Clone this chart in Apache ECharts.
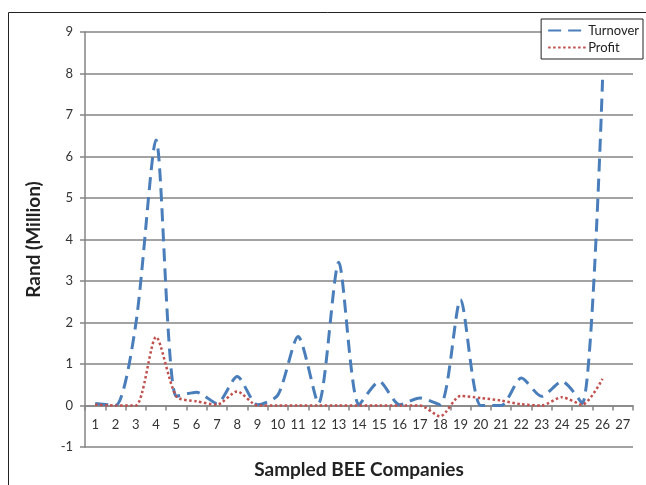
<!DOCTYPE html>
<html>
<head>
    <meta charset="UTF-8">
    <title>Turnover and Profit of Sampled BEE Companies</title>
    <script src="https://cdn.jsdelivr.net/npm/echarts@6.0.0/dist/echarts.min.js"></script>
    <style>
        body { margin: 0; background: #fff; }
        #chart { width: 646px; height: 485px; }
    </style>
</head>
<body>
    <div id="chart"></div>
    <script>
        // categories 1..27 (company number)
        const companies = ['1', '2', '3', '4', '5', '6', '7', '8', '9', '10', '11', '12', '13', '14',
            '15', '16', '17', '18', '19', '20', '21', '22', '23', '24', '25', '26', '27'];

        // Rand (Million)
        const turnover = [0.05, 0, 1.95, 6.4, 0.22, 0.32, 0.05, 0.7, 0.02, 0.25, 1.66, 0.05, 3.45,
            0.02, 0.58, 0.02, 0.18, 0.02, 2.55, 0, 0, 0.66, 0.22, 0.58, 0.05, 7.85];
        const profit = [0.02, 0, 0, 1.65, 0.22, 0.1, 0.02, 0.34, 0, 0, 0, 0, 0,
            0, 0, 0, 0, -0.26, 0.23, 0.18, 0.12, 0.03, 0, 0.2, 0.02, 0.64];

        const yTicks = { min: -1, max: 9, step: 1 };

        const myChart = echarts.init(document.getElementById('chart'));
        const fontFamily = 'Lato, "Open Sans", sans-serif';

        const option = {
            animation: false,
            textStyle: { fontFamily: fontFamily },
            graphic: [{
                type: 'rect',
                shape: { x: 8.5, y: 12.5, width: 700, height: 500 },
                style: { fill: 'none', stroke: '#222', lineWidth: 1 },
                silent: true
            }],
            grid: {
                left: 85,
                right: 13,
                top: 32,
                bottom: 38,
                outerBoundsMode: 'none'
            },
            legend: {
                orient: 'vertical',
                right: 3,
                top: 19,
                padding: [5, 4, 5, 6],
                itemGap: 4,
                itemWidth: 38,
                itemHeight: 12,
                backgroundColor: '#fff',
                borderColor: '#222',
                borderWidth: 1,
                borderRadius: 0,
                itemStyle: { opacity: 0 },
                textStyle: { fontSize: 13, color: '#222', padding: [0, 0, 0, -3] },
                data: ['Turnover', 'Profit']
            },
            xAxis: {
                type: 'category',
                data: companies,
                boundaryGap: true,
                name: 'Sampled BEE Companies',
                nameLocation: 'middle',
                nameGap: 13,
                nameMoveOverlap: false,
                nameTextStyle: { fontSize: 19, fontWeight: 'bold', color: '#222' },
                axisLine: { onZero: true, lineStyle: { color: '#858585', width: 1.5 } },
                axisTick: { show: true, length: 5, lineStyle: { color: '#858585', width: 1.5 } },
                // labels sit under the zero line, 1 unit above the grid bottom
                axisLabel: { fontSize: 13, color: '#333', margin: -29, interval: 0 },
                splitLine: { show: false }
            },
            yAxis: {
                type: 'value',
                min: yTicks.min,
                max: yTicks.max,
                interval: yTicks.step,
                name: 'Rand (Million)',
                nameLocation: 'middle',
                nameRotate: 90,
                nameGap: 42,
                nameMoveOverlap: false,
                nameTextStyle: { fontSize: 19, fontWeight: 'bold', color: '#222' },
                axisLine: { show: true, lineStyle: { color: '#858585', width: 1.5 } },
                axisTick: { show: true, length: 5, lineStyle: { color: '#858585', width: 1.5 } },
                axisLabel: { fontSize: 13, color: '#333', margin: 12 },
                splitLine: { show: true, lineStyle: { color: '#858585', width: 1.5 } }
            },
            series: [{
                name: 'Turnover',
                type: 'line',
                data: turnover,
                smooth: 0.25,
                showSymbol: false,
                symbol: 'none',
                itemStyle: { color: '#4a7ebb' },
                lineStyle: { color: '#4a7ebb', width: 3, type: [13, 7] }
            }, {
                name: 'Profit',
                type: 'line',
                data: profit,
                smooth: 0.25,
                showSymbol: false,
                symbol: 'none',
                itemStyle: { color: '#c0504d' },
                lineStyle: { color: '#c0504d', width: 2.5, type: [2.5, 2.5] }
            }]
        };

        myChart.setOption(option);
    </script>
</body>
</html>
